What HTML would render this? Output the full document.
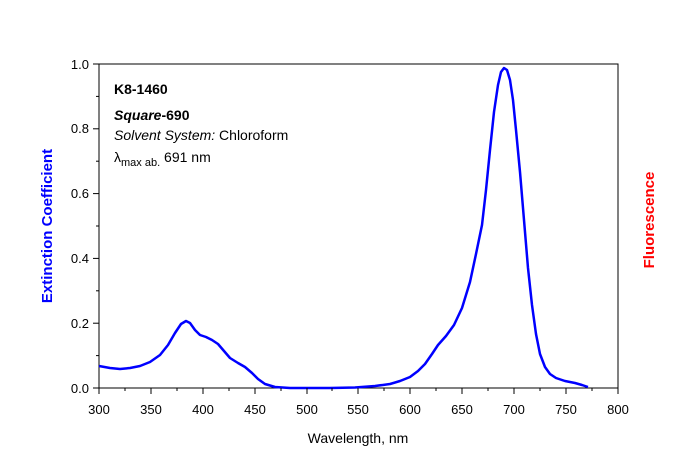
<!DOCTYPE html>
<html><head><style>
body{margin:0;background:#fff;}
svg{display:block;font-family:"Liberation Sans",Arial,sans-serif;}
</style></head><body>
<svg width="680" height="460" viewBox="0 0 680 460">
<rect x="0" y="0" width="680" height="460" fill="#fff"/>
<rect x="99" y="64" width="519" height="324" fill="none" stroke="#000" stroke-width="1"/>
<g stroke="#000" stroke-width="1">
<line x1="99" y1="388" x2="93" y2="388"/><line x1="99" y1="323.2" x2="93" y2="323.2"/><line x1="99" y1="258.4" x2="93" y2="258.4"/><line x1="99" y1="193.6" x2="93" y2="193.6"/><line x1="99" y1="128.8" x2="93" y2="128.8"/><line x1="99" y1="64" x2="93" y2="64"/>
<line x1="99" y1="355.6" x2="96" y2="355.6"/><line x1="99" y1="290.8" x2="96" y2="290.8"/><line x1="99" y1="226" x2="96" y2="226"/><line x1="99" y1="161.2" x2="96" y2="161.2"/><line x1="99" y1="96.4" x2="96" y2="96.4"/>
</g>
<g stroke="#000" stroke-width="1" id="xt"></g>
<g font-size="13" text-anchor="end" fill="#000">
<text x="89" y="393">0.0</text><text x="89" y="328">0.2</text><text x="89" y="263">0.4</text><text x="89" y="198">0.6</text><text x="89" y="133">0.8</text><text x="89" y="69">1.0</text>
</g>
<g font-size="13" text-anchor="middle" fill="#000">
<text x="99" y="414">300</text><text x="151" y="414">350</text><text x="203" y="414">400</text><text x="255" y="414">450</text><text x="307" y="414">500</text><text x="358" y="414">550</text><text x="410" y="414">600</text><text x="462" y="414">650</text><text x="514" y="414">700</text><text x="566" y="414">750</text><text x="618" y="414">800</text>
<text x="358" y="443" font-size="14">Wavelength, nm</text>
</g>
<text transform="translate(52,226) rotate(-90)" text-anchor="middle" font-size="15" font-weight="bold" fill="#0000ff">Extinction Coefficient</text>
<text transform="translate(654,220) rotate(-90)" text-anchor="middle" font-size="15" font-weight="bold" fill="#ff0000">Fluorescence</text>
<g font-size="14" fill="#000">
<text x="114" y="94" font-weight="bold">K8-1460</text>
<text x="114" y="120" font-weight="bold"><tspan font-style="italic">Square</tspan>-690</text>
<text x="114" y="140"><tspan font-style="italic">Solvent System:</tspan> Chloroform</text>
<text x="114" y="162">λ<tspan font-size="11" dy="4">max ab.</tspan><tspan dy="-4"> 691 nm</tspan></text>
</g>
<polyline fill="none" stroke="#0000ff" stroke-width="2.5" stroke-linejoin="round" points="
99,366 110,368 120,369 130,368 140,366 150,362 160,355 168,345 175,333 181,324 186,321 190,323 195,330 200,335 206,337 212,340 218,344 224,351 230,358 238,363 245,367 252,373 258,379 265,384 275,387 290,388 330,388 355,387.5 375,386 390,384 400,381 410,377 418,371 425,364 432,354 438,345 446,336 454,325 462,308 470,282 476,254 482,225 486,190 490,150 494,112 498,85 501,72 504,68 507,70 510,80 513,100 516,130 520,172 524,220 528,268 532,305 536,334 540,354 545,367 550,374 556,378 565,381 575,383 582,385 588,387"/>
<g stroke="#000">
<line x1="99" y1="388" x2="99" y2="394"/><line x1="151" y1="388" x2="151" y2="394"/><line x1="203" y1="388" x2="203" y2="394"/><line x1="255" y1="388" x2="255" y2="394"/><line x1="307" y1="388" x2="307" y2="394"/><line x1="358" y1="388" x2="358" y2="394"/><line x1="410" y1="388" x2="410" y2="394"/><line x1="462" y1="388" x2="462" y2="394"/><line x1="514" y1="388" x2="514" y2="394"/><line x1="566" y1="388" x2="566" y2="394"/><line x1="618" y1="388" x2="618" y2="394"/>
<line x1="125" y1="388" x2="125" y2="391"/><line x1="177" y1="388" x2="177" y2="391"/><line x1="229" y1="388" x2="229" y2="391"/><line x1="281" y1="388" x2="281" y2="391"/><line x1="332" y1="388" x2="332" y2="391"/><line x1="384" y1="388" x2="384" y2="391"/><line x1="436" y1="388" x2="436" y2="391"/><line x1="488" y1="388" x2="488" y2="391"/><line x1="540" y1="388" x2="540" y2="391"/><line x1="592" y1="388" x2="592" y2="391"/>
</g>
</svg>
</body></html>
